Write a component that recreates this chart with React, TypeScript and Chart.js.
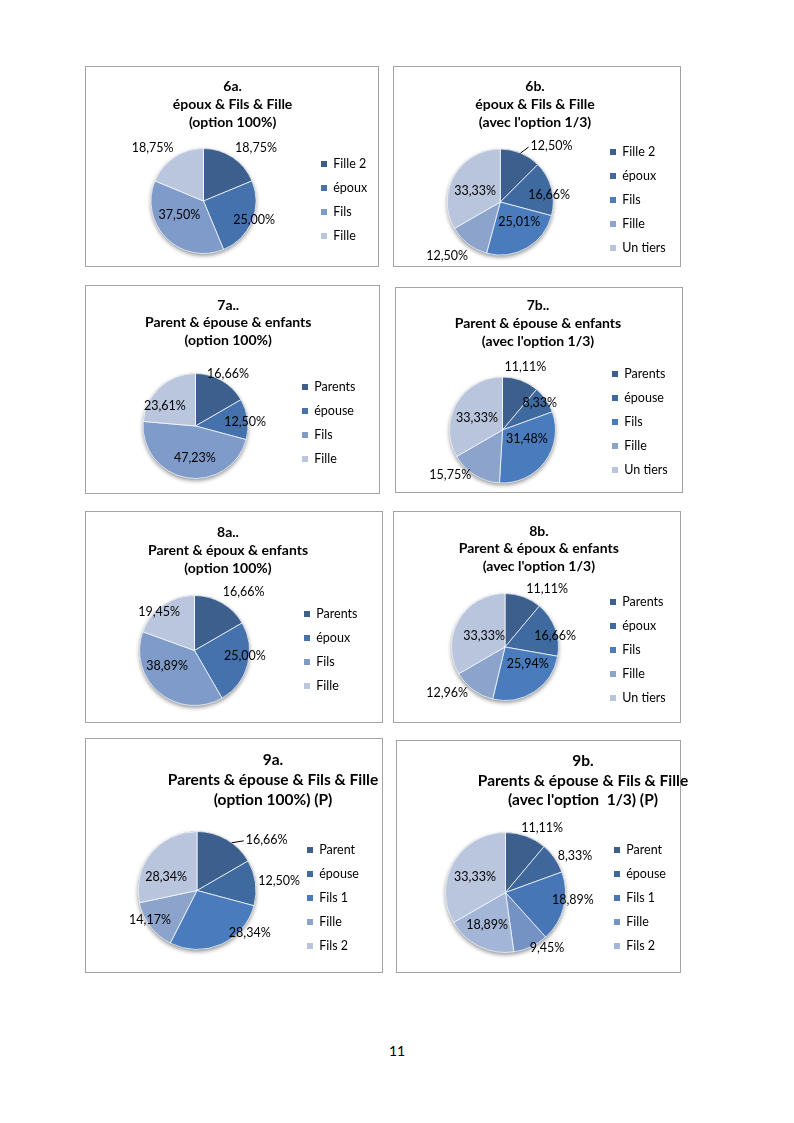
import React, { useEffect, useRef } from "react";
import { Chart, registerables } from "chart.js";

Chart.register(...registerables);

const FONT = "Lato, 'Open Sans', 'DejaVu Sans', sans-serif";

// ---------------- data ----------------
const title6a = ["6a.", "époux & Fils & Fille", "(option 100%)"];
const labels6a = ["Fille 2", "époux", "Fils", "Fille"];
const values6a = [18.75, 25.0, 37.5, 18.75];

const title6b = ["6b.", "époux & Fils & Fille", "(avec l'option 1/3)"];
const labels6b = ["Fille 2", "époux", "Fils", "Fille", "Un tiers"];
const values6b = [12.5, 16.66, 25.01, 12.5, 33.33];

const title7a = ["7a..", "Parent & épouse & enfants", "(option 100%)"];
const labels7a = ["Parents", "épouse", "Fils", "Fille"];
const values7a = [16.66, 12.5, 47.23, 23.61];

const title7b = ["7b..", "Parent & épouse & enfants", "(avec l'option 1/3)"];
const labels7b = ["Parents", "épouse", "Fils", "Fille", "Un tiers"];
const values7b = [11.11, 8.33, 31.48, 15.75, 33.33];

const title8a = ["8a..", "Parent & époux & enfants", "(option 100%)"];
const labels8a = ["Parents", "époux", "Fils", "Fille"];
const values8a = [16.66, 25.0, 38.89, 19.45];

const title8b = ["8b.", "Parent & époux & enfants", "(avec l'option 1/3)"];
const labels8b = ["Parents", "époux", "Fils", "Fille", "Un tiers"];
const values8b = [11.11, 16.66, 25.94, 12.96, 33.33];

const title9a = ["9a.", "Parents & épouse & Fils & Fille", "(option 100%) (P)"];
const labels9a = ["Parent", "épouse", "Fils 1", "Fille", "Fils 2"];
const values9a = [16.66, 12.5, 28.34, 14.17, 28.34];

const title9b = ["9b.", "Parents & épouse & Fils & Fille", "(avec l'option  1/3) (P)"];
const labels9b = ["Parent", "épouse", "Fils 1", "Fille", "Fils 2", "Un tiers"];
const values9b = [11.11, 8.33, 18.89, 9.45, 18.89, 33.33];
const legendCount9b = 5;

const pageNumber = "11";

// ---------------- style ----------------
const pal4 = ["#3C5F8E", "#4571AC", "#7F9BCA", "#B9C6DD"];
const pal5 = ["#3C5F8E", "#3F6AA0", "#4A7CBD", "#8CA4CB", "#B8C5DD"];
const pal6 = ["#3C5F8E", "#3F679B", "#4676B5", "#7592C5", "#A3B6D7", "#B9C6DE"];

const LEG_FS = 12.5;
const LEG_PAD = 11.5;
const LEG_BOX = 6;
const LABEL_FS = 12.5;

type Place = { f: number; d: number; leader?: number };
type Spec = {
  id: string;
  title: string[];
  labels: string[];
  values: number[];
  colors: string[];
  legendCount?: number;
  box: { x: number; y: number; w: number; h: number };
  cx: number; cy: number; r: number;
  tx: number; ty: number; lh: number; tfs: number;
  lx: number; ly: number;
  place: Place[];
};

const specs: Spec[] = [
  {
    id: "6a", title: title6a, labels: labels6a, values: values6a, colors: pal4,
    box: { x: 85, y: 66, w: 294, h: 201 },
    cx: 203.5, cy: 201, r: 52.5, tx: 230, ty: 86, lh: 18, tfs: 14, lx: 321, ly: 164,
    place: [{ f: 1.42, d: 11 }, { f: 1.03, d: -2 }, { f: 0.53, d: 15 }, { f: 1.4, d: -10 }],
  },
  {
    id: "6b", title: title6b, labels: labels6b, values: values6b, colors: pal5,
    box: { x: 393, y: 66, w: 288, h: 201 },
    cx: 500.3, cy: 202, r: 53, tx: 535, ty: 86, lh: 18, tfs: 14, lx: 610, ly: 152,
    place: [{ f: 1.43, d: 20, leader: 0 }, { f: 0.93, d: 7 }, { f: 0.52, d: -13.5 }, { f: 1.43, d: 7 }, { f: 0.52, d: -6 }],
  },
  {
    id: "7a", title: title7a, labels: labels7a, values: values7a, colors: pal4,
    box: { x: 85, y: 285, w: 295, h: 209 },
    cx: 195.5, cy: 426, r: 52.5, tx: 228, ty: 305, lh: 17.5, tfs: 14, lx: 302, ly: 387,
    place: [{ f: 1.17, d: 2 }, { f: 0.95, d: 2.7 }, { f: 0.61, d: -9 }, { f: 0.7, d: -14 }],
  },
  {
    id: "7b", title: title7b, labels: labels7b, values: values7b, colors: pal5,
    box: { x: 395, y: 287, w: 288, h: 206 },
    cx: 502.5, cy: 430, r: 53, tx: 538, ty: 305, lh: 18, tfs: 14, lx: 612, ly: 374,
    place: [{ f: 1.26, d: 0 }, { f: 0.87, d: -1 }, { f: 0.49, d: -16.5 }, { f: 1.3, d: 17.7 }, { f: 0.53, d: -5 }],
  },
  {
    id: "8a", title: title8a, labels: labels8a, values: values8a, colors: pal4,
    box: { x: 85, y: 511, w: 298, h: 212 },
    cx: 194.5, cy: 650.5, r: 55, tx: 228, ty: 532, lh: 18, tfs: 14, lx: 304, ly: 614,
    place: [{ f: 1.39, d: 10 }, { f: 0.92, d: -9 }, { f: 0.57, d: 20.6 }, { f: 0.95, d: -7.7 }],
  },
  {
    id: "8b", title: title8b, labels: labels8b, values: values8b, colors: pal5,
    box: { x: 393, y: 511, w: 288, h: 212 },
    cx: 505, cy: 647, r: 53.5, tx: 536, ty: 531, lh: 17.5, tfs: 14, lx: 610, ly: 602,
    place: [{ f: 1.34, d: 16 }, { f: 0.96, d: 7.6 }, { f: 0.53, d: -20 }, { f: 1.38, d: 15 }, { f: 0.44, d: -2.4 }],
  },
  {
    id: "9a", title: title9a, labels: labels9a, values: values9a, colors: pal5,
    box: { x: 85, y: 738, w: 298, h: 235 },
    cx: 197, cy: 890.5, r: 59, tx: 273, ty: 760, lh: 20, tfs: 15.5, lx: 307, ly: 850,
    place: [{ f: 1.46, d: 24, leader: 6 }, { f: 1.4, d: 1 }, { f: 1.15, d: -27 }, { f: 0.94, d: 5.4 }, { f: 0.57, d: -15.5 }],
  },
  {
    id: "9b", title: title9b, labels: labels9b, values: values9b, colors: pal6, legendCount: legendCount9b,
    box: { x: 396, y: 740, w: 285, h: 233 },
    cx: 505.5, cy: 892.5, r: 60, tx: 583, ty: 761, lh: 19.5, tfs: 15.5, lx: 614, ly: 850,
    place: [{ f: 1.24, d: 9.5 }, { f: 1.31, d: 7.3 }, { f: 1.13, d: -7.7 }, { f: 1.15, d: -12 }, { f: 0.62, d: 3.6 }, { f: 0.57, d: -3 }],
  },
];

const fmt = (v: number) => v.toFixed(2).replace(".", ",") + "%";

let measureCtx: CanvasRenderingContext2D | null = null;
function measure(text: string, font: string) {
  if (!measureCtx) measureCtx = document.createElement("canvas").getContext("2d");
  if (!measureCtx) return text.length * 6.5;
  measureCtx.font = font;
  return measureCtx.measureText(text).width;
}

function computeLayout(s: Spec) {
  const n = s.title.length;
  const lh = s.lh;
  const T = s.box.y + 1;
  const titlePadTop = s.ty - lh / 2 - T;
  const A = s.ty - lh / 2 + n * lh; // chart area top (page)
  const B = 2 * s.cy - A; // chart area bottom (page)
  const H = Math.ceil(B - T);
  const padB = T + H - B;
  const legTitlePad = s.ly - A - 1 - LEG_PAD - LEG_FS / 2;

  // natural legend width (as Chart.js computes it)
  const count = s.legendCount ?? s.labels.length;
  const lf = `normal ${LEG_FS}px ${FONT}`;
  let maxText = 0;
  for (let i = 0; i < count; i++) maxText = Math.max(maxText, measure(s.labels[i], lf));
  const N = LEG_PAD + LEG_BOX + LEG_FS / 2 + maxText + 10;

  const legLeft = s.lx - LEG_PAD;
  const Lp = 2 * s.cx - legLeft; // chart area left
  const D = 2 * (s.tx - s.cx);
  let legendW = N;
  let spacer = 0;
  if (D >= N + 1) spacer = D - N;
  else legendW = Math.min(N, Math.max(D, N - 9.5));
  const R = legLeft + legendW + spacer;
  const L = Math.floor(Math.min(Lp, s.box.x + 1));
  const W = Math.ceil(R - L);
  const padL = Lp - L;
  const padR = L + W - R;
  return { T, H, L, W, padL, padR, padB, titlePadTop, legTitlePad, spacer, legendW, count };
}

const pieShadow = {
  id: "pieShadow",
  beforeDatasetsDraw(chart: any) {
    const meta = chart.getDatasetMeta(0);
    const arc = meta.data[0];
    if (!arc) return;
    const { x, y, outerRadius } = arc.getProps(["x", "y", "outerRadius"], true);
    const ctx = chart.ctx;
    ctx.save();
    ctx.shadowColor = "rgba(0,0,0,0.45)";
    ctx.shadowBlur = 4;
    ctx.shadowOffsetY = 2;
    ctx.fillStyle = "#4a6a96";
    ctx.beginPath();
    ctx.arc(x, y, outerRadius, 0, Math.PI * 2);
    ctx.fill();
    ctx.restore();
  },
};

const sliceLabels = {
  id: "sliceLabels",
  afterDatasetsDraw(chart: any, _args: any, opts: any) {
    const meta = chart.getDatasetMeta(0);
    const values = chart.data.datasets[0].data as number[];
    const place: Place[] = opts.place || [];
    const ctx = chart.ctx;
    ctx.save();
    ctx.font = `${LABEL_FS}px ${FONT}`;
    ctx.fillStyle = "#000";
    ctx.strokeStyle = "#000";
    ctx.lineWidth = 1;
    ctx.textAlign = "center";
    ctx.textBaseline = "middle";
    meta.data.forEach((arc: any, i: number) => {
      const p = place[i] || { f: 0.6, d: 0 };
      const { x, y, startAngle, endAngle, outerRadius } = arc.getProps(
        ["x", "y", "startAngle", "endAngle", "outerRadius"], true);
      const mid = (startAngle + endAngle) / 2;
      const a = mid + (p.d * Math.PI) / 180;
      const px = x + Math.cos(a) * outerRadius * p.f;
      const py = y + Math.sin(a) * outerRadius * p.f;
      const text = fmt(values[i]);
      ctx.fillText(text, px, py);
      if (p.leader !== undefined) {
        const la = mid + (p.leader * Math.PI) / 180;
        const sx = x + Math.cos(la) * outerRadius;
        const sy = y + Math.sin(la) * outerRadius;
        const w = ctx.measureText(text).width;
        ctx.beginPath();
        ctx.moveTo(sx, sy);
        ctx.lineTo(px - w / 2 - 2, py + 1);
        ctx.stroke();
      }
    });
    ctx.restore();
  },
};

function PieCanvas({ s }: { s: Spec }) {
  const ref = useRef<HTMLCanvasElement | null>(null);
  const lay = computeLayout(s);
  useEffect(() => {
    if (!ref.current) return;
    const baseGen = (Chart as any).overrides.doughnut.plugins.legend.labels.generateLabels;
    const chart = new Chart(ref.current, {
      type: "pie",
      data: {
        labels: s.labels,
        datasets: [
          {
            data: s.values,
            backgroundColor: s.colors,
            borderColor: "rgba(255,255,255,0.75)",
            borderWidth: 1,
            radius: s.r,
            hoverOffset: 0,
          } as any,
        ],
      },
      options: {
        responsive: false,
        animation: false,
        devicePixelRatio: 1,
        events: [],
        layout: { padding: { left: lay.padL, right: lay.padR, top: 0, bottom: lay.padB } },
        plugins: {
          title: {
            display: true,
            text: s.title,
            color: "#000",
            font: { family: FONT, size: s.tfs, weight: "bold", lineHeight: `${s.lh}px` },
            padding: { top: lay.titlePadTop, bottom: 0 },
          },
          subtitle: {
            display: lay.spacer >= 1,
            position: "right",
            text: "",
            font: { size: 1, lineHeight: 1 },
            padding: { top: 0, bottom: Math.max(0, lay.spacer - 1) },
          },
          legend: {
            display: true,
            position: "right",
            align: "start",
            fullSize: false,
            maxWidth: lay.legendW,
            title: {
              display: true,
              text: "",
              font: { size: 1, lineHeight: 1 },
              padding: { top: lay.legTitlePad, bottom: 0 },
            },
            labels: {
              boxWidth: LEG_BOX,
              boxHeight: LEG_BOX,
              padding: LEG_PAD,
              color: "#000",
              font: { family: FONT, size: LEG_FS },
              generateLabels: (c: any) =>
                baseGen(c).map((it: any) => ({ ...it, lineWidth: 0 })),
              filter: (it: any) => it.index < lay.count,
            },
          },
          tooltip: { enabled: false },
          sliceLabels: { place: s.place },
        } as any,
      },
      plugins: [pieShadow, sliceLabels],
    });
    return () => chart.destroy();
  }, []);
  return (
    <canvas
      ref={ref}
      width={lay.W}
      height={lay.H}
      style={{ position: "absolute", left: lay.L, top: lay.T, width: lay.W, height: lay.H }}
    />
  );
}

export default function App() {
  return (
    <div style={{ position: "absolute", left: 0, top: 0, width: 794, height: 1123, background: "#fff" }}>
      {specs.map((s) => (
        <div
          key={"box" + s.id}
          style={{
            position: "absolute",
            left: s.box.x,
            top: s.box.y,
            width: s.box.w,
            height: s.box.h,
            border: "1px solid #a3a3a3",
            boxSizing: "border-box",
          }}
        />
      ))}
      {specs.map((s) => (
        <PieCanvas key={"c" + s.id} s={s} />
      ))}
      <div
        style={{
          position: "absolute",
          left: 377,
          width: 40,
          top: 1042,
          textAlign: "center",
          fontFamily: FONT,
          fontSize: 14,
          color: "#000",
        }}
      >
        {pageNumber}
      </div>
    </div>
  );
}
